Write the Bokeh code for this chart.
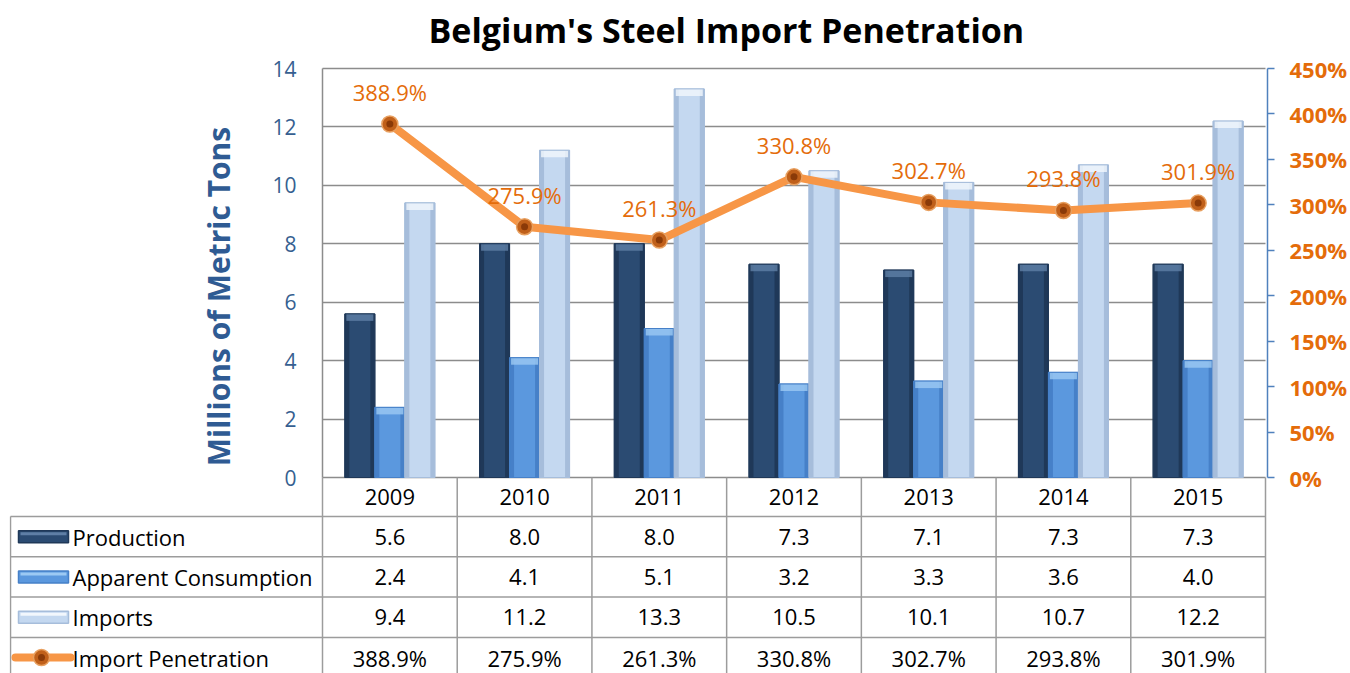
from bokeh.plotting import figure
from bokeh.models import (Range1d, LinearAxis, SingleIntervalTicker, FixedTicker, Grid,
                          PrintfTickFormatter, ColumnDataSource)
from bokeh.core.properties import value
from bokeh.embed import file_html
from bokeh.resources import INLINE

# ---------------- data ----------------
years = ["2009", "2010", "2011", "2012", "2013", "2014", "2015"]
production = [5.6, 8.0, 8.0, 7.3, 7.1, 7.3, 7.3]
consumption = [2.4, 4.1, 5.1, 3.2, 3.3, 3.6, 4.0]
imports = [9.4, 11.2, 13.3, 10.5, 10.1, 10.7, 12.2]
penetration = [388.9, 275.9, 261.3, 330.8, 302.7, 293.8, 301.9]
series_names = ["Production", "Apparent Consumption", "Imports", "Import Penetration"]
title_text = "Belgium's Steel Import Penetration"
left_title = "Millions of Metric Tons"
left_max, left_step = 14, 2
right_max, right_step = 450, 50

# ---------------- layout constants (page pixels) ----------------
FONT = "Open Sans"
W, H = 1350, 673
FRAME_LPX, FRAME_RPX, FRAME_TPX = 9, 1267, 56   # figure frame
PLOT_L, PLOT_R = 322, 1265                      # chart area
TOP_PX, ZERO_PX, YEAR_B = 68, 477, 516
ROW_H = 40.3
NY = len(years)
COL_W = (PLOT_R - PLOT_L) / NY
PPU = (ZERO_PX - TOP_PX) / left_max
PPP = (ZERO_PX - TOP_PX) / right_max


def gx(px):
    return (px - PLOT_L) / COL_W


def gy(px):
    return (ZERO_PX - px) / PPU


GRID = "#8c8c8c"
TABLE_LINE = "#9c9c9c"
ORANGE_TXT = "#e46c0a"
LINE_ORANGE = "#f79646"

idx = list(range(NY))
xc = [i + 0.5 for i in idx]
src = ColumnDataSource(dict(x=xc, years=years, production=production,
                            consumption=consumption, imports=imports,
                            penetration=penetration,
                            plabel=[f"{v:.1f}%" for v in penetration]))

p = figure(width=W, height=H, x_range=Range1d(gx(FRAME_LPX), gx(FRAME_RPX)),
           y_range=Range1d(gy(H), gy(FRAME_TPX)), x_axis_type=None, y_axis_type=None,
           output_backend="svg", toolbar_location=None,
           min_border_left=FRAME_LPX, min_border_right=W - FRAME_RPX,
           min_border_top=FRAME_TPX, min_border_bottom=0)
p.extra_y_ranges = {"pct": Range1d((ZERO_PX - H) / PPP, (ZERO_PX - FRAME_TPX) / PPP)}
p.outline_line_color = None
p.background_fill_color = "white"
p.border_fill_color = "white"

# title
p.title.text = title_text
p.title.text_font = FONT
p.title.text_font_size = "34px"
p.title.text_font_style = "bold"
p.title.text_color = "black"
p.title.align = "left"
p.title.offset = 428 - FRAME_LPX
p.title.standoff = 8

# grid lines (only across the chart area)
ticker_l = SingleIntervalTicker(interval=left_step, num_minor_ticks=0)
if "cross_bounds" in Grid.properties():
    g = Grid(dimension=1, ticker=ticker_l, bounds=(0, left_max), cross_bounds=(0, NY),
             grid_line_color=GRID, grid_line_width=1.5)
    p.add_layout(g)
else:
    gv = list(range(0, left_max + 1, left_step))
    p.segment(x0=[0] * len(gv), y0=gv, x1=[NY] * len(gv), y1=gv,
              line_color=GRID, line_width=1.5, level="underlay")

# left axis (inside the frame, at the chart's left edge)
yax = LinearAxis(fixed_location=0, bounds=(0, left_max), ticker=ticker_l)
yax.major_tick_line_color = None
yax.minor_tick_line_color = None
yax.major_tick_out = 0
yax.axis_line_color = GRID
yax.axis_line_width = 1.5
yax.major_label_text_font = FONT
yax.major_label_text_font_size = "21px"
yax.major_label_text_color = "#365f91"
yax.major_label_standoff = 26
p.add_layout(yax, "left")

# axis title
tax = LinearAxis(fixed_location=0, bounds=(gy(465), gy(127)), ticker=FixedTicker(ticks=[]))
tax.axis_line_color = None
tax.major_tick_line_color = None
tax.minor_tick_line_color = None
tax.major_tick_out = 0
tax.axis_label = left_title
tax.axis_label_text_font = FONT
tax.axis_label_text_font_size = "30px"
tax.axis_label_text_font_style = "bold"
tax.axis_label_text_color = "#2f5b93"
tax.axis_label_standoff = 84
p.add_layout(tax, "left")

# right axis
rax = LinearAxis(y_range_name="pct",
                 ticker=SingleIntervalTicker(interval=right_step, num_minor_ticks=0),
                 formatter=PrintfTickFormatter(format="%d%%"), bounds=(0, right_max))
rax.axis_line_color = "#4f81bd"
rax.axis_line_width = 1.5
rax.major_tick_line_color = "#4f81bd"
rax.major_tick_line_width = 1.5
rax.major_tick_out = 7
rax.major_tick_in = 0
rax.minor_tick_line_color = None
rax.major_label_text_font = FONT
rax.major_label_text_font_size = "22px"
rax.major_label_text_font_style = "bold"
rax.major_label_text_color = ORANGE_TXT
rax.major_label_standoff = 15
p.add_layout(rax, "right")

# bars (bevelled look)
bw = 30 / COL_W
styles = [
    ("production", -bw, "#1f3858", "#2b4b72", "#5f7fa6"),
    ("consumption", 0.0, "#4680c8", "#5b98de", "#9cc9f3"),
    ("imports", bw, "#a6bddb", "#c4d8f0", "#f2f7fd"),
]
cap = 7 / PPU
for col, off, edge, main, capc in styles:
    bx = [x + off for x in xc]
    vals = src.data[col]
    p.vbar(x=bx, top=vals, bottom=0, width=bw, fill_color=edge, line_color=edge)
    p.vbar(x=bx, top=vals, bottom=0, width=bw * 0.7, fill_color=main, line_color=None)
    p.vbar(x=bx, top=vals, bottom=[v - cap for v in vals], width=bw * 0.9,
           fill_color=capc, line_color=None, fill_alpha=0.8)
    p.vbar(x=bx, top=vals, bottom=0, width=bw, fill_color=None, line_color=edge, line_width=1)

# penetration line
p.line(x="x", y="penetration", source=src, y_range_name="pct",
       line_color=LINE_ORANGE, line_width=8, line_join="round")
p.scatter(x="x", y="penetration", source=src, y_range_name="pct", size=16,
          fill_color="#c0601a", line_color="#e8a060", line_width=1.5)
p.scatter(x="x", y="penetration", source=src, y_range_name="pct", size=7,
          fill_color="#8a3a08", line_color=None)
p.text(x="x", y="penetration", text="plabel", source=src, y_range_name="pct",
       y_offset=-32, text_align="center", text_baseline="middle",
       text_font=value(FONT), text_font_size="22px", text_color=ORANGE_TXT)

# ---------------- data table ----------------
ybot = gy(H + 10)
nrows = len(series_names)
row_bounds = [gy(YEAR_B + ROW_H * k) for k in range(nrows)]
row_centers = [gy(YEAR_B + ROW_H * (k + 0.5)) for k in range(nrows)]

# vertical lines of the year columns
p.segment(x0=idx + [NY], y0=[0] * (NY + 1), x1=idx + [NY], y1=[ybot] * (NY + 1),
          line_color=TABLE_LINE, line_width=1.5)
# left border of the label column
p.segment(x0=[gx(10)], y0=[row_bounds[0]], x1=[gx(10)], y1=[ybot],
          line_color=TABLE_LINE, line_width=1.5)
# horizontal row lines
p.segment(x0=[gx(10)] * nrows, y0=row_bounds, x1=[NY] * nrows, y1=row_bounds,
          line_color=TABLE_LINE, line_width=1.5)

# year header
p.text(x=xc, y=[gy(496.5)] * NY, text=years, text_align="center",
       text_baseline="middle", text_font=value(FONT), text_font_size="22px",
       text_color="black")

row_vals = [
    [f"{v:.1f}" for v in production],
    [f"{v:.1f}" for v in consumption],
    [f"{v:.1f}" for v in imports],
    [f"{v:.1f}%" for v in penetration],
]
for k, (name, vals) in enumerate(zip(series_names, row_vals)):
    yc = row_centers[k]
    p.text(x=xc, y=[yc] * NY, text=vals, text_align="center", text_baseline="middle",
           text_font=value(FONT), text_font_size="22px", text_color="black")
    p.text(x=[gx(72)], y=[yc], text=[name], text_align="left", text_baseline="middle",
           text_font=value(FONT), text_font_size="22px", text_color="black")

# legend keys
for k, (col, off, edge, main, capc) in enumerate(styles):
    yc = row_centers[k]
    p.rect(x=[gx(43)], y=[yc], width=50, height=12, width_units="screen",
           height_units="screen", fill_color=main, line_color=edge, line_width=1.5)
    p.rect(x=[gx(43)], y=[yc + 3 / PPU], width=46, height=3, width_units="screen",
           height_units="screen", fill_color=capc, line_color=None)
yc = row_centers[3]
p.segment(x0=[gx(15)], y0=[yc], x1=[gx(70)], y1=[yc], line_color=LINE_ORANGE,
          line_width=8, line_cap="round")
p.scatter(x=[gx(41)], y=[yc], size=16, fill_color="#c0601a", line_color="#e8a060",
          line_width=1.5)
p.scatter(x=[gx(41)], y=[yc], size=7, fill_color="#8a3a08", line_color=None)

open("out.html", "w").write(file_html(p, INLINE))
